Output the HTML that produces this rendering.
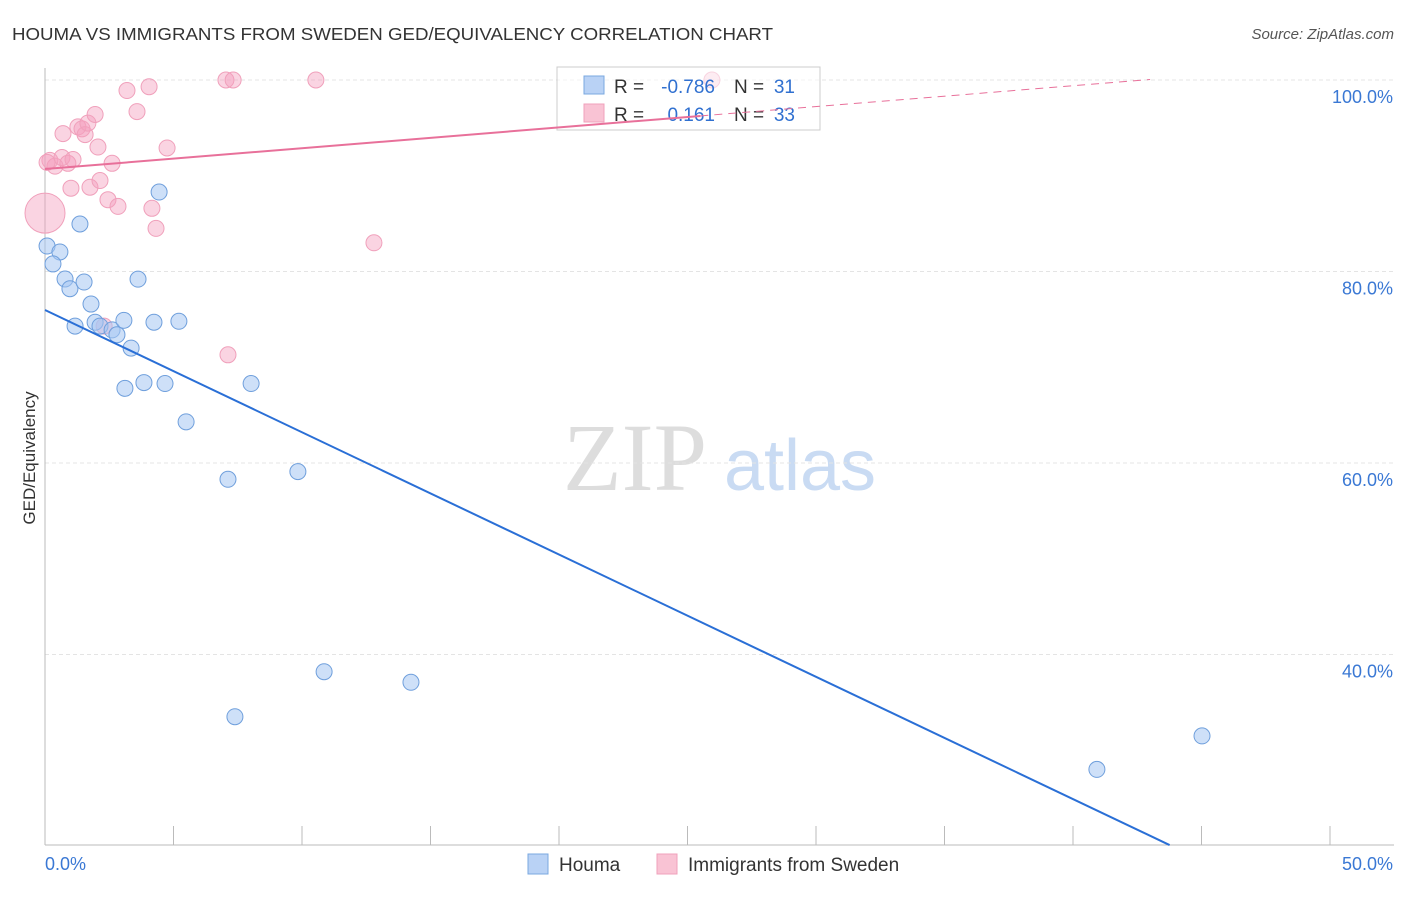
<!DOCTYPE html>
<html><head><meta charset="utf-8"><style>
body{margin:0;background:#fff;font-family:"Liberation Sans",sans-serif}
</style></head><body>
<svg width="1406" height="892" xmlns="http://www.w3.org/2000/svg" id="chart">
<text x="12" y="40" font-size="17.5" fill="#333" textLength="761" lengthAdjust="spacingAndGlyphs">HOUMA VS IMMIGRANTS FROM SWEDEN GED/EQUIVALENCY CORRELATION CHART</text>
<text x="1394" y="39" font-size="15" fill="#555" font-style="italic" text-anchor="end">Source: ZipAtlas.com</text>
<text x="35" y="458" font-size="17" fill="#333" transform="rotate(-90 35 458)" text-anchor="middle">GED/Equivalency</text>
<g>
<text x="635" y="490" font-size="96" fill="#ddd" text-anchor="middle" font-family="Liberation Serif,serif">ZIP</text>
<text x="800" y="490" font-size="72" fill="#c9dbf3" text-anchor="middle">atlas</text>
</g>
<g id="grid"></g><g id="axes"></g><g id="pts"></g>
<g>
<rect x="557" y="67" width="263" height="63" fill="#fff" fill-opacity="0.55" stroke="#ccc"/>
<rect x="584" y="76" width="20" height="18" fill="#b9d2f5" stroke="#7aa8e0"/>
<rect x="584" y="104" width="20" height="18" fill="#f9c3d4" stroke="#f0a0bb"/>
<text x="614" y="93" font-size="19" fill="#333">R =</text>
<text x="715" y="93" font-size="19" fill="#3070d0" text-anchor="end">-0.786</text>
<text x="734" y="93" font-size="19" fill="#333">N =</text>
<text x="795" y="93" font-size="19" fill="#3070d0" text-anchor="end">31</text>
<text x="614" y="121" font-size="19" fill="#333">R =</text>
<text x="715" y="121" font-size="19" fill="#3070d0" text-anchor="end">0.161</text>
<text x="734" y="121" font-size="19" fill="#333">N =</text>
<text x="795" y="121" font-size="19" fill="#3070d0" text-anchor="end">33</text>
</g>
<g id="lines"></g>
<g>
<rect x="528" y="854" width="20" height="20" fill="#b9d2f5" stroke="#7aa8e0"/>
<text x="559" y="871" font-size="19" fill="#333">Houma</text>
<rect x="657" y="854" width="20" height="20" fill="#f9c3d4" stroke="#f0a0bb"/>
<text x="688" y="871" font-size="19" fill="#333">Immigrants from Sweden</text>
</g>
</svg>
<script>
const yTicks=[40,60,80,100];
const xTickLabels=["0.0%","50.0%"];
const blueX=[0.08,0.58,0.31,0.78,0.97,1.52,4.44,1.36,1.79,1.17,1.95,2.14,2.61,2.8,3.07,3.35,3.62,4.24,5.21,3.11,3.85,4.67,8.02,5.49,7.12,9.84,10.86,14.24,7.39,40.93,45.02];
const blueY=[82.66,82.04,80.79,79.22,78.2,78.9,88.3,84.96,76.6,74.3,74.7,74.3,73.9,73.4,74.9,72.0,79.2,74.7,74.8,67.8,68.4,68.3,68.3,64.3,58.3,59.1,38.2,37.1,33.5,28.0,31.5];
const pinkX=[0,0.19,0.39,0.66,0.89,1.09,0.7,1.01,1.28,1.44,1.56,1.67,1.95,2.06,1.75,2.14,2.61,2.45,2.84,3.19,3.58,4.05,4.16,4.32,4.75,7.04,7.32,10.54,25.95,12.8,7.12,2.3,0.08];
const pinkY=[86.1,91.6,91.0,91.9,91.3,91.7,94.4,88.7,95.1,94.9,94.3,95.5,96.4,93.0,88.8,89.5,91.3,87.5,86.8,98.9,96.7,99.3,86.6,84.5,92.9,100,100,100,100,83.0,71.3,74.3,91.4];
const blueTrend=[75.98,-1.277];
const pinkTrend=[90.7,0.2175];
const NS="http://www.w3.org/2000/svg";
const sx=v=>45+v*25.7, sy=v=>80+(100-v)*9.575;
function mk(t,a,p){const e=document.createElementNS(NS,t);for(const k in a)e.setAttribute(k,a[k]);document.getElementById(p).appendChild(e);return e;}
yTicks.forEach(t=>{
 const l=mk('line',{x1:45,x2:1394,y1:sy(t),y2:sy(t),stroke:'#e4e4e4','stroke-dasharray':'4,3'},'grid');
 
 
 const tx=mk('text',{x:1393,y:sy(t)+23,'font-size':18,fill:'#3a78d4','text-anchor':'end'},'axes');
 tx.textContent=t.toFixed(1)+'%';
 
 
});
mk('line',{x1:45,x2:45,y1:68,y2:845,stroke:'#bbb'},'axes');
mk('line',{x1:45,x2:1394,y1:845,y2:845,stroke:'#bbb'},'axes');
for(let i=0;i<=10;i++){const x=sx(i*5);mk('line',{x1:x,x2:x,y1:826,y2:845,stroke:'#bbb'},'axes');}
const xl=mk('text',{x:45,y:870,'font-size':18,fill:'#3a78d4'},'axes');xl.textContent=xTickLabels[0];


const xr=mk('text',{x:1393,y:870,'font-size':18,fill:'#3a78d4','text-anchor':'end'},'axes');xr.textContent=xTickLabels[1];


const bEnd=(20.1-blueTrend[0])/blueTrend[1];
const bl=mk('line',{x1:sx(0),y1:sy(blueTrend[0]),x2:sx(bEnd),y2:sy(20.1),stroke:'#2a6fd6','stroke-width':2},'lines');


const pl=mk('line',{x1:sx(0),y1:sy(pinkTrend[0]),x2:sx(25.5),y2:sy(pinkTrend[0]+pinkTrend[1]*25.5),stroke:'#e8709a','stroke-width':2},'lines');


const pd=mk('line',{x1:sx(25.5),y1:sy(pinkTrend[0]+pinkTrend[1]*25.5),x2:sx(43),y2:sy(pinkTrend[0]+pinkTrend[1]*43),stroke:'#e8709a','stroke-width':1,'stroke-dasharray':'8,6'},'lines');


pinkX.forEach((x,i)=>{
 const c=mk('circle',{cx:sx(x),cy:sy(pinkY[i]),r:i===0?20:8,fill:'rgba(245,160,190,0.45)',stroke:'#f0a0bb','stroke-width':1},'pts');
 
 
});
blueX.forEach((x,i)=>{
 const c=mk('circle',{cx:sx(x),cy:sy(blueY[i]),r:8,fill:'rgba(165,198,242,0.55)',stroke:'#6f9fdc','stroke-width':1},'pts');
 
 
});
</script>
</body></html>
